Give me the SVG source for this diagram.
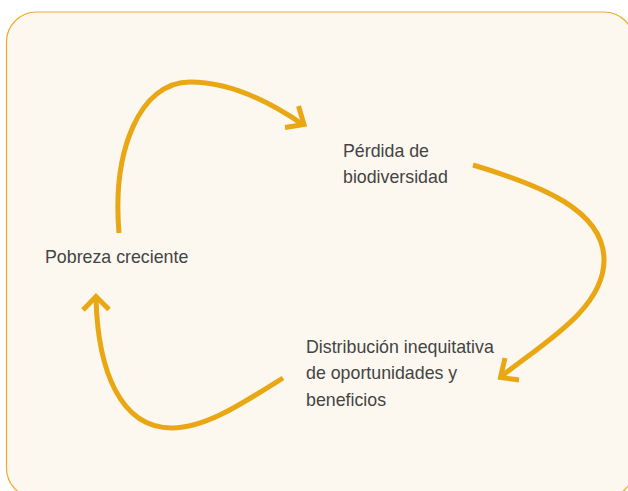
<svg xmlns="http://www.w3.org/2000/svg" width="628" height="491" viewBox="0 0 628 491">
<defs>
<style>
.lbl{font-family:"Liberation Sans",Arial,sans-serif;font-size:17.8px;fill:#444444}
.arc{fill:none;stroke:#E8A713;stroke-width:5}
.head{fill:none;stroke:#E8A713;stroke-width:5;stroke-linecap:butt;stroke-linejoin:miter}
</style>
</defs>
<rect x="0" y="0" width="628" height="491" fill="#ffffff"/>
<rect x="6.5" y="12" width="627.5" height="486" rx="30" ry="30" fill="#FCF8F0" stroke="#EBAC2E" stroke-width="1.2"/>
<g id="connectors">
<path class="arc" d="M119,233 C112,150 140,82 190,82 C230,82 270,102 302,124"/>
<path class="head" d="M285,127.5 L304,124.5 L298.5,106"/>
<path class="arc" d="M473,165 C540,185 604,210 604,260 C604,310 540,345 502,376"/>
<path class="head" d="M505,358 L500.5,377.5 L519,380"/>
<path class="arc" d="M283,378 C240,405 205,428 172,428 C120,428 98,370 96,299"/>
<path class="head" d="M83,310 L96,296.5 L109,309.5"/>
</g>
<g id="node-pobreza">
<text class="lbl" x="45" y="263">Pobreza creciente</text>
</g>
<g id="node-perdida">
<text class="lbl" x="343" y="157">Pérdida de</text>
<text class="lbl" x="343" y="183">biodiversidad</text>
</g>
<g id="node-distribucion">
<text class="lbl" x="306" y="353">Distribución inequitativa</text>
<text class="lbl" x="306" y="379">de oportunidades y</text>
<text class="lbl" x="306" y="406">beneficios</text>
</g>
</svg>
